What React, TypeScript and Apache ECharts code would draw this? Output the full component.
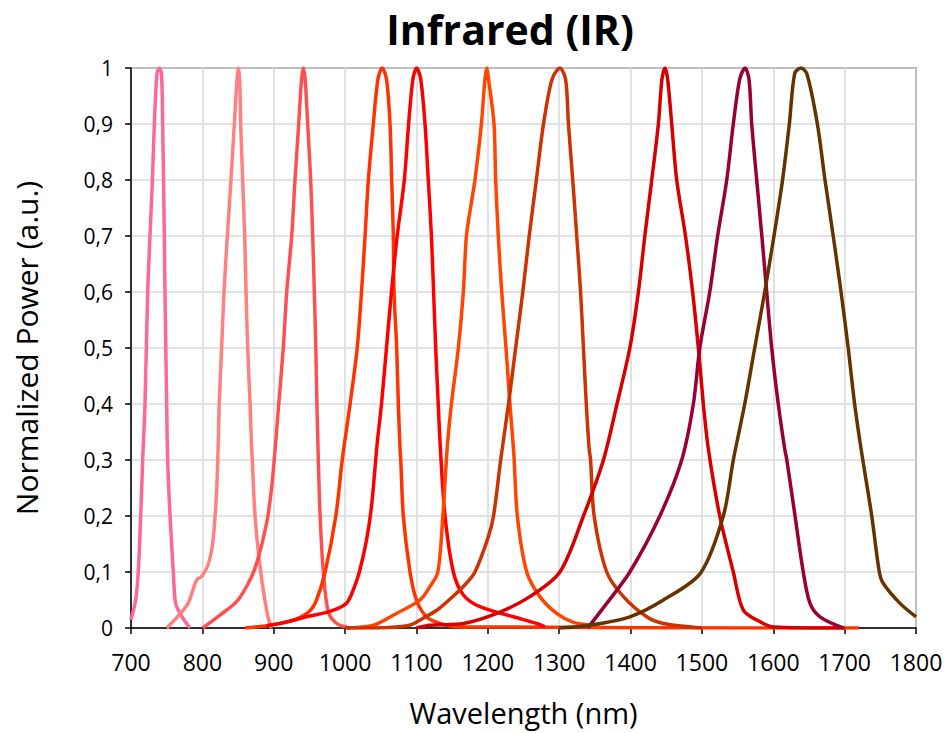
import React, { useEffect, useRef } from "react";
import * as echarts from "echarts";

const xTicks = [700, 800, 900, 1000, 1100, 1200, 1300, 1400, 1500, 1600, 1700, 1800];
const yTicks = [0, 0.1, 0.2, 0.3, 0.4, 0.5, 0.6, 0.7, 0.8, 0.9, 1];

const seriesNames = ["740 nm", "850 nm", "940 nm", "1050 nm", "1100 nm", "1200 nm", "1300 nm", "1450 nm", "1560 nm", "1640 nm"];
const seriesColors = ["#FF6699", "#FF8080", "#FF5050", "#FF3300", "#FF0000", "#FF4500", "#CC3300", "#D60000", "#990033", "#663300"];

const wl740 = [700, 706.6, 710.2, 713.6, 716.4, 719.6, 723.4, 726.6, 730, 732.7, 736.4, 739.7, 742.7, 744.4, 746.7, 747.6, 750, 751.4, 754.7, 759.3, 761.7, 765, 773, 782.7];
const pw740 = [0.015, 0.05, 0.1, 0.2, 0.3, 0.4, 0.6, 0.7, 0.8, 0.9, 0.99, 1, 0.99, 0.9, 0.7, 0.6, 0.4, 0.3, 0.2, 0.1, 0.05, 0.035, 0.017, 0];

const wl850 = [750, 765, 780, 792, 799, 808, 815, 820, 822.4, 823.6, 827, 830.3, 835, 840.1, 844.8, 848.5, 850.4, 852.3, 853.7, 856.5, 859.3, 861.2, 863.5, 866.8, 869.1, 870, 873.8, 881.8, 890, 895, 897];
const pw850 = [0, 0.02, 0.044, 0.086, 0.092, 0.113, 0.157, 0.246, 0.336, 0.4, 0.5, 0.6, 0.7, 0.8, 0.9, 0.98, 1, 0.98, 0.9, 0.8, 0.7, 0.6, 0.5, 0.4, 0.32, 0.3, 0.2, 0.1, 0.032, 0.005, 0];

const wl940 = [800.5, 824.7, 848, 864.4, 876, 890, 897, 902, 907, 913.4, 918.2, 925.2, 929.8, 935, 939, 941.5, 944, 947.6, 951.8, 954.6, 956.9, 959, 960.5, 962.5, 965, 969.5, 976.5, 988.2, 1002];
const pw940 = [0, 0.023, 0.047, 0.08, 0.115, 0.187, 0.25, 0.32, 0.4, 0.5, 0.6, 0.7, 0.8, 0.9, 0.98, 1, 0.98, 0.9, 0.8, 0.7, 0.6, 0.5, 0.4, 0.3, 0.2, 0.1, 0.029, 0.008, 0.002];

const wl1050 = [860, 900, 930, 950, 960, 972, 987, 996, 1007, 1017, 1023, 1028, 1032.6, 1039.6, 1046, 1052, 1058, 1063, 1065.3, 1067.6, 1068.6, 1072.3, 1074.6, 1077, 1078, 1081.6, 1091, 1100, 1114, 1133, 1160, 1720];
const pw1050 = [0, 0.006, 0.015, 0.03, 0.05, 0.1, 0.2, 0.3, 0.4, 0.5, 0.6, 0.7, 0.8, 0.9, 0.98, 1, 0.98, 0.9, 0.8, 0.7, 0.6, 0.5, 0.4, 0.32, 0.3, 0.2, 0.1, 0.05, 0.02, 0.008, 0.002, 0];

const wl1100 = [890, 918, 946, 980, 1002, 1012, 1020, 1030, 1037, 1045, 1051, 1058, 1065, 1073, 1083, 1089, 1095, 1100.3, 1106, 1112, 1116.6, 1121, 1124, 1127, 1130.5, 1134, 1140, 1151.7, 1165.7, 1189, 1235.8, 1268.5, 1280];
const pw1100 = [0.004, 0.011, 0.02, 0.03, 0.044, 0.07, 0.1, 0.157, 0.217, 0.33, 0.4, 0.5, 0.6, 0.7, 0.8, 0.9, 0.98, 1, 0.98, 0.9, 0.8, 0.7, 0.6, 0.5, 0.4, 0.31, 0.2, 0.1, 0.059, 0.038, 0.02, 0.008, 0.002];

const wl1200 = [1000, 1040, 1072, 1105, 1119, 1130, 1137, 1143, 1149, 1158.7, 1165.7, 1170, 1177, 1182, 1191, 1196, 1198.4, 1201, 1208.7, 1211, 1214.7, 1219.5, 1225.5, 1231, 1236.5, 1241.4, 1254.5, 1273, 1296.5, 1320, 1343, 1360];
const pw1200 = [0, 0.005, 0.026, 0.05, 0.074, 0.1, 0.2, 0.32, 0.4, 0.5, 0.6, 0.7, 0.76, 0.8, 0.9, 0.98, 1, 0.98, 0.9, 0.8, 0.7, 0.6, 0.5, 0.4, 0.31, 0.2, 0.1, 0.056, 0.026, 0.01, 0.005, 0];

const wl1300 = [1000, 1060, 1090, 1110, 1130, 1150, 1170, 1182, 1200, 1208, 1218, 1229, 1239, 1249, 1258, 1268, 1278, 1290, 1301, 1309, 1313, 1319, 1324.6, 1330, 1334, 1338, 1342, 1344, 1349, 1366.6, 1390, 1422.6, 1446, 1500];
const pw1300 = [0, 0.001, 0.005, 0.018, 0.033, 0.055, 0.08, 0.1, 0.16, 0.2, 0.3, 0.4, 0.5, 0.6, 0.7, 0.8, 0.9, 0.98, 1, 0.98, 0.9, 0.8, 0.7, 0.6, 0.5, 0.4, 0.32, 0.3, 0.2, 0.1, 0.056, 0.02, 0.008, 0];

const wl1450 = [1100, 1119, 1165.7, 1212.5, 1259, 1301, 1334, 1362, 1381, 1399, 1411, 1420, 1429.7, 1439, 1444, 1448.3, 1452, 1457.7, 1464.7, 1477, 1487, 1495, 1502, 1509, 1525, 1544, 1558, 1581.5, 1600, 1700];
const pw1450 = [0, 0.005, 0.008, 0.026, 0.056, 0.1, 0.2, 0.3, 0.4, 0.5, 0.6, 0.7, 0.8, 0.9, 0.98, 1, 0.98, 0.9, 0.8, 0.7, 0.6, 0.5, 0.4, 0.32, 0.2, 0.1, 0.032, 0.011, 0.002, 0];

const wl1560 = [1340, 1366.6, 1399, 1441, 1471.7, 1488, 1497, 1511, 1522, 1534.8, 1544, 1553, 1560.4, 1566, 1569.8, 1576.8, 1584, 1590.8, 1597.8, 1607, 1616, 1619, 1630.5, 1642, 1651.5, 1665.5, 1698];
const pw1560 = [0, 0.044, 0.1, 0.2, 0.3, 0.4, 0.5, 0.6, 0.7, 0.8, 0.9, 0.98, 1, 0.98, 0.9, 0.8, 0.7, 0.6, 0.5, 0.4, 0.32, 0.3, 0.2, 0.1, 0.044, 0.02, 0];

const wl1640 = [1300, 1343, 1399, 1446, 1498, 1530, 1544, 1560, 1574, 1588, 1601, 1613, 1622.5, 1630, 1638.7, 1647, 1661.8, 1672.5, 1684, 1695, 1705, 1714, 1723, 1738, 1748.6, 1754, 1777.6, 1800];
const pw1640 = [0, 0.005, 0.02, 0.05, 0.098, 0.2, 0.3, 0.4, 0.5, 0.6, 0.7, 0.8, 0.9, 0.99, 1, 0.99, 0.9, 0.8, 0.7, 0.6, 0.5, 0.4, 0.32, 0.2, 0.1, 0.08, 0.044, 0.02];

const allWl = [wl740, wl850, wl940, wl1050, wl1100, wl1200, wl1300, wl1450, wl1560, wl1640];
const allPw = [pw740, pw850, pw940, pw1050, pw1100, pw1200, pw1300, pw1450, pw1560, pw1640];

const FONT = "Open Sans";

export default function App() {
  const ref = useRef<HTMLDivElement>(null);
  useEffect(() => {
    if (!ref.current) return;
    const chart = echarts.init(ref.current, undefined, { renderer: "svg" });
    const series = seriesNames.map((name, i) => ({
      name,
      type: "line",
      data: allWl[i].map((x, j) => [x, allPw[i][j]]),
      showSymbol: false,
      symbol: "none",
      smooth: 0.3,
      lineStyle: { color: seriesColors[i], width: 3.5 },
      itemStyle: { color: seriesColors[i] },
    }));
    chart.setOption({
      animation: false,
      backgroundColor: "#ffffff",
      title: {
        text: "Infrared (IR)",
        left: 505,
        top: 3,
        textAlign: "center",
        textStyle: { fontFamily: FONT, fontWeight: "bold", fontSize: 41, color: "#000" },
      },
      grid: {
        left: 131,
        right: 31,
        top: 68,
        bottom: 105,
        show: true,
        borderColor: "#404040",
        borderWidth: 1.5,
        backgroundColor: "transparent",
      },
      xAxis: {
        type: "value",
        min: xTicks[0],
        max: xTicks[xTicks.length - 1],
        interval: 100,
        name: "Wavelength (nm)",
        nameLocation: "middle",
        nameGap: 70,
        nameTextStyle: { fontFamily: FONT, fontSize: 29, color: "#000" },
        axisLine: { show: true, lineStyle: { color: "#000", width: 1.5 } },
        axisTick: { show: true, inside: false, length: 6, lineStyle: { color: "#000", width: 1.5 } },
        axisLabel: {
          fontFamily: FONT,
          fontSize: 23,
          color: "#000",
          margin: 22,
          formatter: (v: number) => String(v),
        },
        splitLine: { show: true, lineStyle: { color: "#D9D9D9", width: 1.5 } },
      },
      yAxis: {
        type: "value",
        min: yTicks[0],
        max: yTicks[yTicks.length - 1],
        interval: 0.1,
        name: "Normalized Power (a.u.)",
        nameLocation: "middle",
        nameGap: 90,
        nameTextStyle: { fontFamily: FONT, fontSize: 30, color: "#000" },
        axisLine: { show: true, lineStyle: { color: "#000", width: 1.5 } },
        axisTick: { show: true, inside: false, length: 6, lineStyle: { color: "#000", width: 1.5 } },
        axisLabel: {
          fontFamily: FONT,
          fontSize: 21,
          color: "#000",
          margin: 18,
          formatter: (v: number) => String(Math.round(v * 10) / 10).replace(".", ","),
        },
        splitLine: { show: true, lineStyle: { color: "#D9D9D9", width: 1.5 } },
      },
      series,
    });
    return () => chart.dispose();
  }, []);
  return <div ref={ref} style={{ position: "fixed", left: 0, top: 0, width: 947, height: 733 }} />;
}
